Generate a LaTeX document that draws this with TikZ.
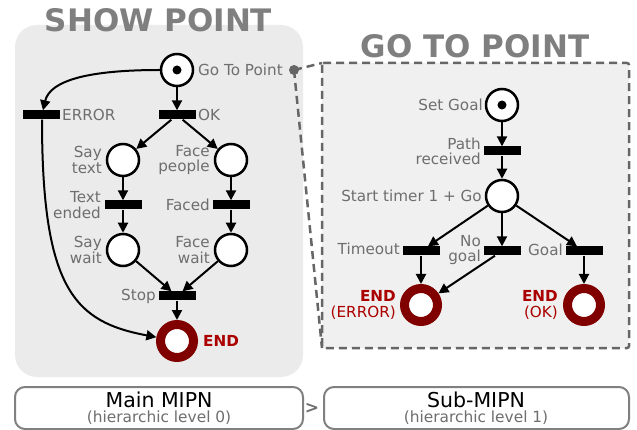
\documentclass[tikz,border=0pt]{standalone}
\usepackage{fontspec}
\setmainfont{DejaVu Sans}
\usetikzlibrary{arrows.meta}

\definecolor{labelgray}{HTML}{6E6E6E}
\definecolor{titlegray}{HTML}{7F7F7F}
\definecolor{panelgray}{HTML}{EBEBEB}
\definecolor{subpanel}{HTML}{F0F0F0}
\definecolor{dashgray}{HTML}{666666}
\definecolor{ringred}{HTML}{800000}
\definecolor{endtext}{HTML}{AA0000}
\definecolor{boxgray}{HTML}{808080}

\begin{document}
\begin{tikzpicture}[x=1pt,y=-1pt,
  place/.style={circle, draw=black, fill=white, line width=2.5pt,
    minimum size=32pt, inner sep=0pt},
  endplace/.style={circle, draw=ringred, fill=white, line width=9pt,
    minimum size=33pt, inner sep=0pt, outer sep=4.5pt},
  trans/.style={rectangle, fill=black, minimum width=37pt,
    minimum height=9pt, inner sep=0pt},
  lbl/.style={text=labelgray, font=\fontsize{15.2}{15.2}\selectfont,
    inner sep=0pt, align=right},
  endlbl/.style={text=endtext, font=\fontsize{15.2}{15.2}\selectfont,
    inner sep=0pt, align=right},
  title/.style={text=titlegray, font=\fontsize{31}{31}\selectfont\bfseries,
    inner sep=0pt},
  arc/.style={line width=2pt, -{Triangle[length=10pt,width=10pt]}},
  zoomline/.style={draw=dashgray, line width=2.5pt,
    dash pattern=on 8pt off 5pt},
  levelbox/.style={draw=boxgray, line width=2pt, rounded corners=10pt,
    fill=white},
  token/.style={fill=black}
]
\useasboundingbox (0,0) rectangle (637,430);

% panels
\fill[panelgray, rounded corners=22pt] (15,25) rectangle (303,377);
\filldraw[fill=subpanel, zoomline, rounded corners=2pt] (322,63) rectangle (629,348);
\coordinate (subTL) at (322,63);
\coordinate (subBL) at (322,348);
\coordinate (hook) at (294,70);
\draw[zoomline] (hook) -- (subTL);
\draw[zoomline] (hook) -- (subBL);
\fill[dashgray] (hook) circle[radius=5pt];

% titles
\node[title] (titleShow) at (158.5,20) {SHOW POINT};
\node[title] (titleGo) at (475,46) {GO TO POINT};

% ---------- main net ----------
\node[place] (gtp) at (177,70) {};
\fill[token] (gtp) circle[radius=4.5pt];
\node[lbl, anchor=west] (gtpL) at (198,70) {Go To Point};

\node[trans] (tOK) at (177,115) {};
\node[lbl, anchor=west] (tOKL) at (198,115) {OK};
\node[trans] (tERR) at (41,115) {};
\node[lbl, anchor=west] (tERRL) at (62,115) {ERROR};

\node[place] (pSay) at (123,160) {};
\node[lbl, anchor=east] (pSayL) at (102,160) {Say\\text};
\node[place] (pFace) at (231,160) {};
\node[lbl, anchor=east] (pFaceL) at (210,160) {Face\\people};

\node[trans] (tText) at (123,205) {};
\node[lbl, anchor=east] (tTextL) at (101,205) {Text\\ended};
\node[trans] (tFaced) at (231,205) {};
\node[lbl, anchor=east] (tFacedL) at (210,205) {Faced};

\node[place] (pSayW) at (123,250) {};
\node[lbl, anchor=east] (pSayWL) at (102,250) {Say\\wait};
\node[place] (pFaceW) at (231,250) {};
\node[lbl, anchor=east] (pFaceWL) at (210,250) {Face\\wait};

\node[trans] (tStop) at (177,296) {};
\node[lbl, anchor=east] (tStopL) at (156,296) {Stop};

\node[endplace] (pEnd) at (177,341) {};
\node[endlbl, anchor=west] (pEndL) at (203,341) {\bfseries END};

\draw[arc] (gtp) -- (tOK);
\draw[arc] (gtp.west) .. controls (90,70) and (50,80) .. ([xshift=2pt]tERR.north);
\draw[arc] (tOK) -- (pSay);
\draw[arc] (tOK) -- (pFace);
\draw[arc] (pSay) -- (tText);
\draw[arc] (pFace) -- (tFaced);
\draw[arc] (tText) -- (pSayW);
\draw[arc] (tFaced) -- (pFaceW);
\draw[arc] (pSayW) -- (tStop);
\draw[arc] (pFaceW) -- (tStop);
\draw[arc] (tStop) -- (pEnd);
\draw[arc] ([xshift=1pt]tERR.south) .. controls (42,290) and (75,322) .. (pEnd);

% ---------- sub net ----------
\node[place] (pSet) at (502,105) {};
\fill[token] (pSet) circle[radius=4.5pt];
\node[lbl, anchor=east] (pSetL) at (483,105) {Set Goal};

\node[trans] (tPath) at (502,151) {};
\node[lbl, anchor=east] (tPathL) at (481,151) {Path\\received};

\node[place] (pStart) at (502,196) {};
\node[lbl, anchor=east] (pStartL) at (482,196) {Start timer 1 + Go};

\node[trans] (tTime) at (421,251) {};
\node[lbl, anchor=east] (tTimeL) at (400,249) {Timeout};
\node[trans] (tNo) at (502,251) {};
\node[lbl, anchor=east] (tNoL) at (481,250) {No\\goal};
\node[trans] (tGoal) at (584,251) {};
\node[lbl, anchor=east] (tGoalL) at (563,250) {Goal};

\node[endplace] (pEndE) at (421,305) {};
\node[endlbl, anchor=east] (pEndEL) at (396,305) {\bfseries END\\(ERROR)};
\node[endplace] (pEndO) at (584,305) {};
\node[endlbl, anchor=east] (pEndOL) at (558,305) {\bfseries END\\(OK)};

\draw[arc] (pSet) -- (tPath);
\draw[arc] (tPath) -- (pStart);
\draw[arc] (pStart) -- (tTime);
\draw[arc] (pStart) -- (tNo);
\draw[arc] (pStart) -- (tGoal);
\draw[arc] (tTime) -- (pEndE);
\draw[arc] (tNo) -- (pEndE);
\draw[arc] (tGoal) -- (pEndO);

% ---------- hierarchy levels ----------
\draw[levelbox] (15,387) rectangle (303,429);
\draw[levelbox] (324,387) rectangle (629,429);
\node[anchor=base, inner sep=0pt, font=\fontsize{20.5}{20.5}\selectfont] (mainT) at (159,407) {Main MIPN};
\node[anchor=base, inner sep=0pt, text=labelgray, font=\fontsize{15.4}{15.4}\selectfont] (mainS) at (159,422) {(hierarchic level 0)};
\node[anchor=base, inner sep=0pt, font=\fontsize{20.5}{20.5}\selectfont] (subT) at (476,407) {Sub-MIPN};
\node[anchor=base, inner sep=0pt, text=labelgray, font=\fontsize{15.4}{15.4}\selectfont] (subS) at (476,422) {(hierarchic level 1)};
\node[inner sep=0pt, text=labelgray, font=\fontsize{17}{17}\selectfont\bfseries] (gt) at (312,408) {>};
\end{tikzpicture}
\end{document}
